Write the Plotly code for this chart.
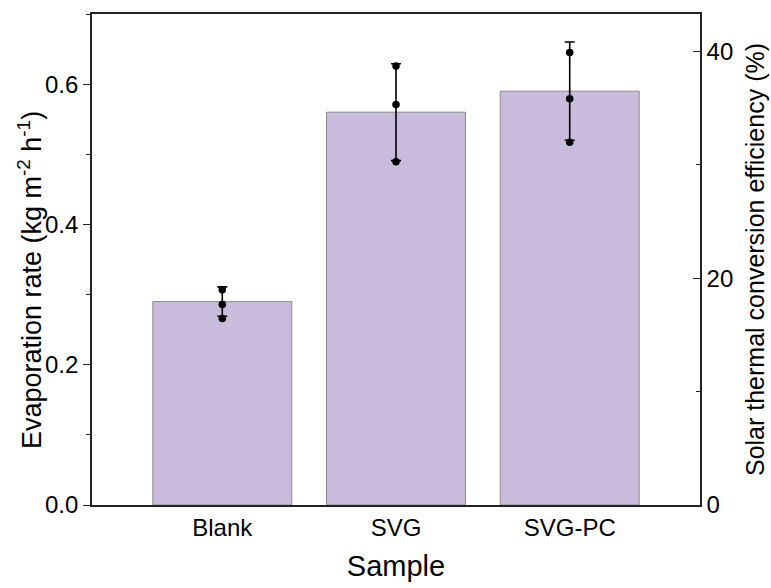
import plotly.graph_objects as go

categories = ["Blank", "SVG", "SVG-PC"]
rate_mean = [0.29, 0.56, 0.59]
rate_err = [0.021, 0.069, 0.070]
points_blank = [0.307, 0.286, 0.266]
points_svg = [0.626, 0.571, 0.4895]
points_svgpc = [0.645, 0.579, 0.517]
y_ticks = [0.0, 0.2, 0.4, 0.6]
y2_ticks = [0, 20, 40]

FONT = "Liberation Sans, Arial, sans-serif"

fig = go.Figure()
fig.add_trace(go.Bar(
    x=categories, y=rate_mean, width=0.8,
    marker=dict(color="rgb(200,187,220)", line=dict(color="rgb(140,140,140)", width=1)),
    error_y=dict(type="data", array=rate_err, visible=True, color="black",
                 thickness=1.6, width=5),
    showlegend=False,
))
for cat, pts in zip(categories, [points_blank, points_svg, points_svgpc]):
    fig.add_trace(go.Scatter(
        x=[cat] * len(pts), y=pts, mode="markers",
        marker=dict(color="black", size=7.5), showlegend=False,
    ))
# invisible trace to activate right axis
fig.add_trace(go.Scatter(x=[categories[0]], y=[0], yaxis="y2", mode="markers",
                         marker=dict(opacity=0), showlegend=False, hoverinfo="skip"))

fig.update_layout(
    width=771, height=588,
    margin=dict(l=92, r=71, t=14, b=83),
    paper_bgcolor="white", plot_bgcolor="white",
    font=dict(family=FONT, color="black", size=24),
    bargap=0.2,
    xaxis=dict(
        range=[-0.75, 2.75], showline=True, linecolor="#222", linewidth=1.6,
        mirror=True, ticks="", showgrid=False, zeroline=False, automargin=False,
        tickfont=dict(size=24),
        title=dict(text="Sample", font=dict(size=29), standoff=16),
    ),
    yaxis=dict(
        range=[0, 0.70], tickvals=y_ticks, ticktext=["0.0", "0.2", "0.4", "0.6"],
        showline=True, linecolor="#222", linewidth=1.6, ticks="outside",
        ticklen=7, tickwidth=1.3, tickcolor="#222", automargin=False,
        minor=dict(dtick=0.1, ticks="outside", ticklen=4, tickwidth=1.2, tickcolor="#222"),
        showgrid=False, zeroline=False, tickfont=dict(size=24),
    ),
    yaxis2=dict(
        overlaying="y", side="right", range=[0, 43.3], tickvals=y2_ticks,
        showline=True, linecolor="#222", linewidth=1.6, ticks="inside",
        ticklen=7, tickwidth=1.3, tickcolor="#222", automargin=False,
        minor=dict(dtick=10, ticks="inside", ticklen=4, tickwidth=1.2, tickcolor="#222"),
        showgrid=False, zeroline=False, tickfont=dict(size=24),
        title=dict(text="Solar thermal conversion efficiency (%)", font=dict(size=25),
                   standoff=14),
    ),
    annotations=[dict(
        text="Evaporation rate (kg m<sup>-2</sup> h<sup>-1</sup>)",
        xref="paper", yref="paper", x=0, y=0.458, xanchor="center", yanchor="middle",
        xshift=-62, textangle=-90, showarrow=False, font=dict(size=27),
    )],
)

fig.write_html("out.html")
